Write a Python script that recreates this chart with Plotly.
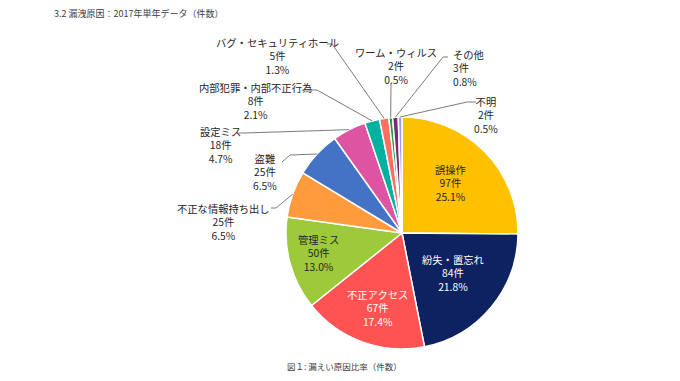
import math
import plotly.graph_objects as go

# ---- data ----
labels = ["誤操作", "紛失・置忘れ", "不正アクセス", "管理ミス", "不正な情報持ち出し", "盗難",
          "設定ミス", "内部犯罪・内部不正行為", "バグ・セキュリティホール", "ワーム・ウィルス", "その他", "不明"]
counts = [97, 84, 67, 50, 25, 25, 18, 8, 5, 2, 3, 2]
colors = ["#FFC000", "#0E2161", "#FF5252", "#9DC93A", "#FF9A3D", "#4472C4",
          "#DD55A2", "#00B19F", "#FF6E60", "#1E9E4A", "#7E2A6C", "#A39BF6"]
title_text = "3.2 漏洩原因：2017年単年データ（件数）"
caption_text = "図１: 漏えい原因比率（件数）"

# ---- layout geometry (pixels in the screenshot) ----
W, H = 680, 381
OFF = 8  # page body margin
CX, CY, R = 402, 233, 116
FONT = "Noto Sans CJK JP, Noto Sans, sans-serif"
TXT = "#262626"
LSIZE = 10.3


def px(x):
    return (x - OFF) / W


def py(y):
    return 1 - (y - OFF) / H


total = sum(counts)
cum = 0
mids = []
for v in counts:
    mids.append((cum + v / 2) / total * 2 * math.pi)
    cum += v


def label_text(i):
    return f"{labels[i]}<br>{counts[i]}件<br>{counts[i] / total * 100:.1f}%"


fig = go.Figure(go.Pie(
    labels=labels, values=counts, sort=False, direction="clockwise", rotation=0,
    marker=dict(colors=colors, line=dict(color="white", width=1.5)),
    textinfo="none", showlegend=False, hoverinfo="label+value+percent",
    domain=dict(x=[px(CX - R), px(CX + R)], y=[py(CY + R), py(CY - R)]),
))

annotations = []
shapes = []

# inside labels: index -> (radius fraction, angle offset deg, colour)
inside = {0: (0.60, -1.4, TXT), 1: (0.56, -1.5, "white"), 2: (0.68, -1.6, "white"), 3: (0.74, 2.0, TXT)}
for i, (rf, dth, col) in inside.items():
    th = mids[i] + math.radians(dth)
    x = CX + R * rf * math.sin(th)
    y = CY - R * rf * math.cos(th)
    annotations.append(dict(x=px(x), y=py(y), xref="paper", yref="paper", text=label_text(i),
                            showarrow=False, xanchor="center", yanchor="middle", align="center",
                            font=dict(family=FONT, size=LSIZE, color=col)))

# outside labels: index -> (x, y, xanchor, leader elbow points from slice toward label)
outside = {
    4: (223, 222, "center", [(276, 208), (271, 208)]),
    5: (265, 172, "center", [(290, 155), (282, 162)]),
    6: (220, 145, "center", [(244, 133), (239, 133)]),
    7: (255, 101, "center", [(317, 90), (312, 90)]),
    8: (277, 56, "center", [(332, 44), (327, 44)]),
    9: (396, 66, "center", [(391, 84)]),
    10: (451, 68, "left", [(443, 57), (448, 57)]),
    11: (486, 115, "center", [(467, 102), (476, 102)]),
}
for i, (x, y, xa, pts) in outside.items():
    th = mids[i]
    ex = CX + R * math.sin(th)
    ey = CY - R * math.cos(th)
    path = f"M {px(ex)},{py(ey)}" + "".join(f" L {px(a)},{py(b)}" for a, b in pts)
    shapes.append(dict(type="path", path=path, xref="paper", yref="paper",
                       line=dict(color="#595959", width=0.8)))
    annotations.append(dict(x=px(x), y=py(y), xref="paper", yref="paper", text=label_text(i),
                            showarrow=False, xanchor=xa, yanchor="middle", align=xa,
                            font=dict(family=FONT, size=LSIZE, color=TXT)))

annotations.append(dict(x=px(52), y=py(14), xref="paper", yref="paper", text=title_text, showarrow=False,
                        xanchor="left", yanchor="middle", font=dict(family=FONT, size=9, color="#404040")))
annotations.append(dict(x=px(344), y=py(366), xref="paper", yref="paper", text=caption_text, showarrow=False,
                        xanchor="center", yanchor="middle", font=dict(family=FONT, size=8.5, color="#404040")))

fig.update_layout(width=W, height=H, margin=dict(l=0, r=0, t=0, b=0),
                  paper_bgcolor="white", plot_bgcolor="white",
                  annotations=annotations, shapes=shapes)

fig.write_html("out.html")
